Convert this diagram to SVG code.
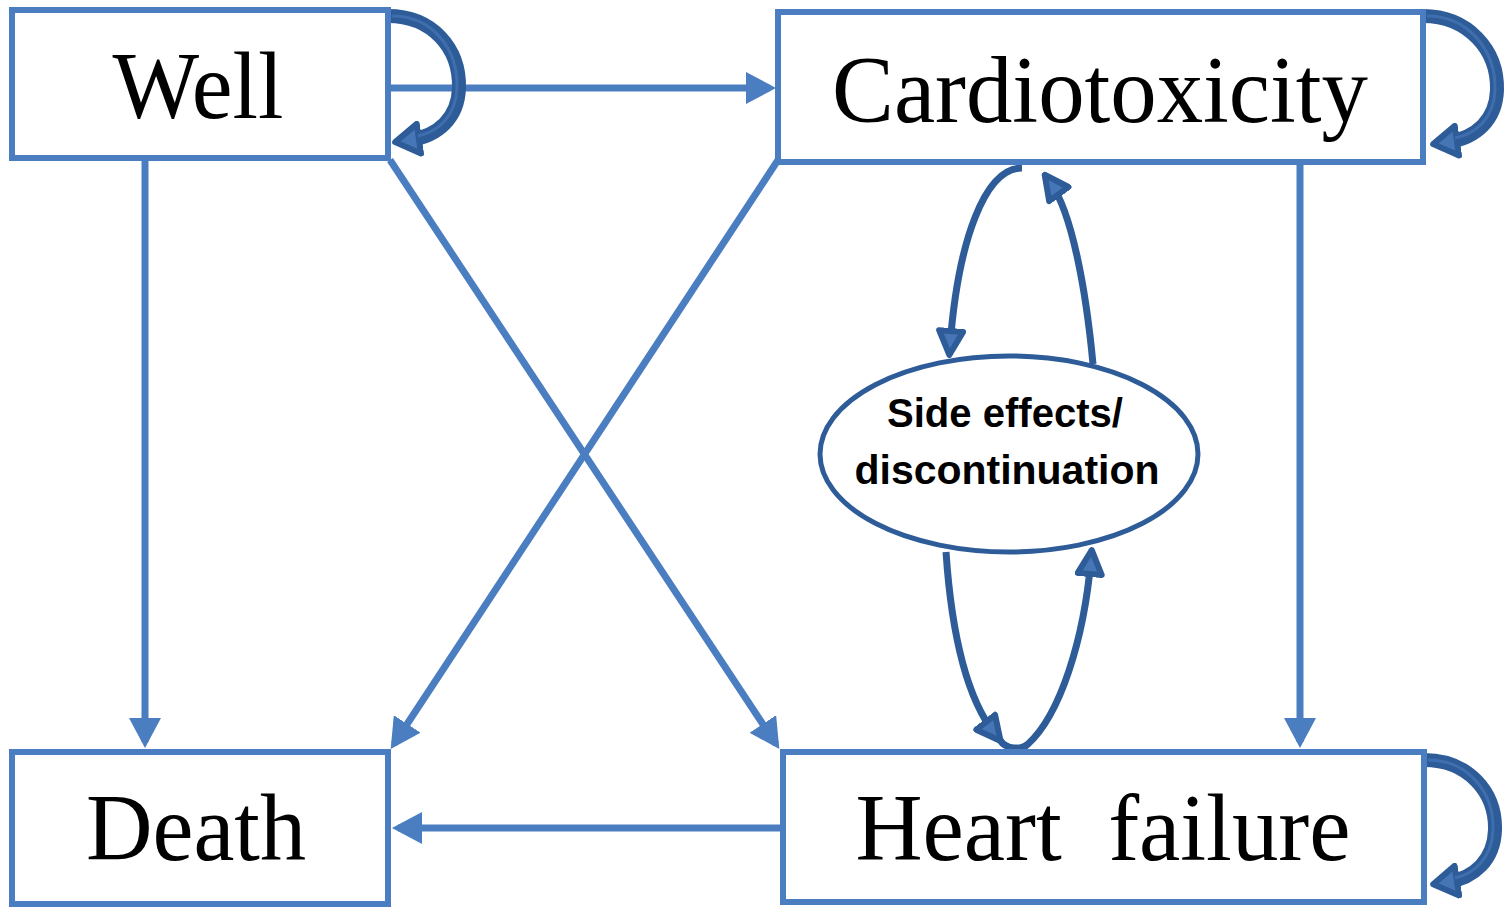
<svg xmlns="http://www.w3.org/2000/svg" width="1508" height="915" viewBox="0 0 1508 915">
<style>
.box{fill:#fff;stroke:#4A7EC1;stroke-width:6}
.lbl{font-family:"Liberation Serif","Times New Roman",serif;font-size:96px;fill:#000;text-anchor:middle}
.elbl{font-family:"Liberation Sans",Arial,sans-serif;font-size:40px;font-weight:bold;fill:#000;text-anchor:middle}
.conn{fill:none;stroke:#4A7EC1;stroke-width:7;marker-end:url(#ah)}
.loop{fill:none;stroke:#2E5C99;stroke-width:14;marker-end:url(#lh)}
.loopin{fill:none;stroke:#4676B5;stroke-width:3;opacity:0.7}
.arc{fill:none;stroke:#2E5C99;stroke-width:7;marker-end:url(#sh)}
</style>
<defs>
<marker id="ah" markerUnits="userSpaceOnUse" viewBox="0 0 30 32" markerWidth="30" markerHeight="32" refX="24" refY="16" orient="auto">
<path d="M0,0 L30,16 L0,32 z" fill="#4A7EC1"/>
</marker>
<marker id="lh" markerUnits="userSpaceOnUse" viewBox="0 0 30 36" markerWidth="30" markerHeight="36" refX="12" refY="18" orient="auto">
<path d="M3,3 L27,18 L3,33 z" fill="#4676B5" stroke="#2E5C99" stroke-width="6" stroke-linejoin="round"/>
</marker>
<marker id="sh" markerUnits="userSpaceOnUse" viewBox="0 0 30 30" markerWidth="30" markerHeight="30" refX="18" refY="15" orient="auto">
<path d="M3,3 L27,15 L3,27 z" fill="#4676B5" stroke="#2E5C99" stroke-width="6" stroke-linejoin="round"/>
</marker>
</defs>

<g id="connectors">
<line class="conn" x1="391" y1="88" x2="770" y2="88"/>
<line class="conn" x1="145" y1="161" x2="145" y2="742"/>
<line class="conn" x1="390" y1="160" x2="776" y2="744"/>
<line class="conn" x1="778" y1="160" x2="394" y2="744"/>
<line class="conn" x1="1300" y1="165" x2="1300" y2="742"/>
<line class="conn" x1="781" y1="828" x2="398" y2="828"/>
<path class="arc" d="M1022,168 C985,168 958,240 950,346"/>
<path class="arc" d="M1093,364 C1086,290 1072,212 1050,182"/>
<path class="arc" d="M946,552 C952,640 968,700 995,734"/>
<path class="arc" d="M1000,740 C1006,750 1022,750 1028,744 C1060,715 1084,640 1091,559"/>
<path class="loop" d="M388,16 C432,16 460,48 459,88 C458,118 438,136 410,140"/>
<path class="loop" d="M1423,16 C1468,16 1498,50 1497,90 C1496,120 1476,138 1448,142"/>
<path class="loop" d="M1424,760 C1468,760 1496,792 1495,830 C1494,860 1474,878 1448,882"/>
</g>

<g id="node-well">
<rect class="box" x="12" y="10" width="376" height="148"/>
<text class="lbl" x="198" y="118" textLength="171" lengthAdjust="spacingAndGlyphs">Well</text>
</g>
<g id="node-cardiotoxicity">
<rect class="box" x="778" y="12" width="645" height="150"/>
<text class="lbl" x="1100" y="122" textLength="536" lengthAdjust="spacingAndGlyphs">Cardiotoxicity</text>
</g>
<g id="node-death">
<rect class="box" x="12" y="752" width="376" height="152"/>
<text class="lbl" x="196" y="860" textLength="220" lengthAdjust="spacingAndGlyphs">Death</text>
</g>
<g id="node-heart-failure">
<rect class="box" x="783" y="752" width="641" height="150"/>
<text class="lbl" x="1103" y="860" textLength="495" lengthAdjust="spacingAndGlyphs" xml:space="preserve">Heart  failure</text>
</g>
<g id="node-side-effects">
<ellipse cx="1009" cy="454" rx="189" ry="98" fill="#fff" stroke="#2E5C99" stroke-width="5"/>
<text class="elbl" x="1005" y="427" textLength="236" lengthAdjust="spacingAndGlyphs">Side effects/</text>
<text class="elbl" x="1007" y="484" textLength="305" lengthAdjust="spacingAndGlyphs">discontinuation</text>
</g>

<g id="loop-highlights">
<path class="loopin" d="M392,16 C432,16 458,48 457,88 C456,116 438,132 418,136"/>
<path class="loopin" d="M1427,16 C1468,16 1496,50 1495,90 C1494,118 1476,134 1455,138"/>
<path class="loopin" d="M1428,760 C1468,760 1494,792 1493,830 C1492,858 1474,874 1455,878"/>
</g>
</svg>
